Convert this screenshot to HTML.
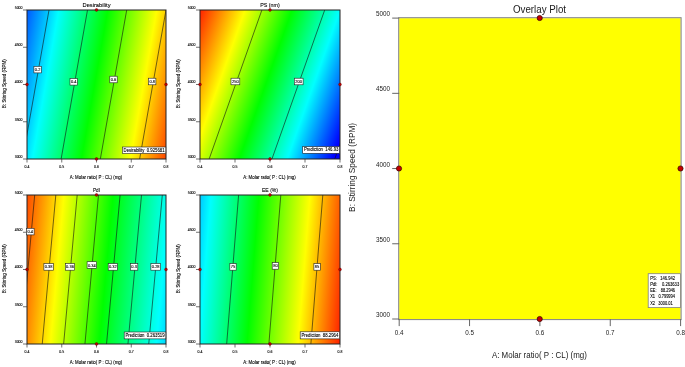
<!DOCTYPE html><html><head><meta charset="utf-8"><title>Overlay Plot</title><style>html,body{margin:0;padding:0;background:#fff}svg{display:block}text{font-family:"Liberation Sans", sans-serif;fill:#1a1a1a}.sm text{fill:#000;stroke:#000;stroke-width:0.1px}</style></head><body>
<svg width="685" height="367" viewBox="0 0 685 367">
<rect width="685" height="367" fill="#fff"/>
<g class="sm">
<defs><linearGradient id="g1" gradientUnits="userSpaceOnUse" x1="9.80" y1="10" x2="199.85" y2="43.64">
<stop offset="0.0000" stop-color="#0000ff"/>
<stop offset="0.2500" stop-color="#00ffff"/>
<stop offset="0.5000" stop-color="#00ff00"/>
<stop offset="0.7500" stop-color="#ffff00"/>
<stop offset="1.0000" stop-color="#ff0000"/>
</linearGradient>
<clipPath id="c1"><rect x="27" y="10" width="139" height="149"/></clipPath></defs>
<rect x="27" y="10" width="139" height="149" fill="url(#g1)"/>
<g clip-path="url(#c1)" stroke="#111" stroke-width="0.6" fill="none">
<line x1="49.00" y1="10" x2="22.63" y2="159"/>
<line x1="87.50" y1="10" x2="61.13" y2="159"/>
<line x1="126.70" y1="10" x2="100.33" y2="159"/>
<line x1="166.00" y1="10" x2="139.63" y2="159"/>
</g>
<rect x="27" y="10" width="139" height="149" fill="none" stroke="#222" stroke-width="1"/>
<line x1="23" y1="10.00" x2="27" y2="10.00" stroke="#333" stroke-width="0.7"/>
<text x="22.5" y="8.80" font-size="3.5" text-anchor="end">5000</text>
<line x1="23" y1="47.25" x2="27" y2="47.25" stroke="#333" stroke-width="0.7"/>
<text x="22.5" y="46.05" font-size="3.5" text-anchor="end">4500</text>
<line x1="23" y1="84.50" x2="27" y2="84.50" stroke="#333" stroke-width="0.7"/>
<text x="22.5" y="83.30" font-size="3.5" text-anchor="end">4000</text>
<line x1="23" y1="121.75" x2="27" y2="121.75" stroke="#333" stroke-width="0.7"/>
<text x="22.5" y="120.55" font-size="3.5" text-anchor="end">3500</text>
<line x1="23" y1="159.00" x2="27" y2="159.00" stroke="#333" stroke-width="0.7"/>
<text x="22.5" y="157.80" font-size="3.5" text-anchor="end">3000</text>
<line x1="27.00" y1="159" x2="27.00" y2="162.5" stroke="#333" stroke-width="0.7"/>
<text x="27.00" y="167.80" font-size="3.5" text-anchor="middle">0.4</text>
<line x1="61.75" y1="159" x2="61.75" y2="162.5" stroke="#333" stroke-width="0.7"/>
<text x="61.75" y="167.80" font-size="3.5" text-anchor="middle">0.5</text>
<line x1="96.50" y1="159" x2="96.50" y2="162.5" stroke="#333" stroke-width="0.7"/>
<text x="96.50" y="167.80" font-size="3.5" text-anchor="middle">0.6</text>
<line x1="131.25" y1="159" x2="131.25" y2="162.5" stroke="#333" stroke-width="0.7"/>
<text x="131.25" y="167.80" font-size="3.5" text-anchor="middle">0.7</text>
<line x1="166.00" y1="159" x2="166.00" y2="162.5" stroke="#333" stroke-width="0.7"/>
<text x="166.00" y="167.80" font-size="3.5" text-anchor="middle">0.8</text>
<text x="96.50" y="6.90" font-size="6" stroke="none" text-anchor="middle" textLength="28" lengthAdjust="spacingAndGlyphs">Desirability</text>
<text x="96.00" y="178.60" font-size="4.5" text-anchor="middle" textLength="52.5" lengthAdjust="spacingAndGlyphs">A: Molar ratio( P : CL) (mg)</text>
<text transform="translate(5.80,83.70) rotate(-90)" font-size="4.5" text-anchor="middle" textLength="49" lengthAdjust="spacingAndGlyphs">B: Stirring Speed (RPM)</text>
<rect x="33.90" y="66.30" width="7.4" height="6.6" fill="#fff" stroke="#222" stroke-width="0.6"/>
<text x="37.60" y="71.10" font-size="4" text-anchor="middle">0.2</text>
<rect x="70.00" y="78.50" width="7.4" height="6.6" fill="#fff" stroke="#222" stroke-width="0.6"/>
<text x="73.70" y="83.30" font-size="4" text-anchor="middle">0.4</text>
<rect x="109.80" y="76.20" width="7.4" height="6.6" fill="#fff" stroke="#222" stroke-width="0.6"/>
<text x="113.50" y="81.00" font-size="4" text-anchor="middle">0.6</text>
<rect x="148.50" y="78.20" width="7.4" height="6.6" fill="#fff" stroke="#222" stroke-width="0.6"/>
<text x="152.20" y="83.00" font-size="4" text-anchor="middle">0.8</text>
<circle cx="96.50" cy="10.00" r="1.4" fill="#c00000" stroke="#500" stroke-width="0.4"/>
<circle cx="96.50" cy="159.00" r="1.4" fill="#c00000" stroke="#500" stroke-width="0.4"/>
<circle cx="27.00" cy="84.50" r="1.4" fill="#c00000" stroke="#500" stroke-width="0.4"/>
<circle cx="166.00" cy="84.50" r="1.4" fill="#c00000" stroke="#500" stroke-width="0.4"/>
<rect x="122.4" y="147" width="43.40" height="6.50" fill="#fff" stroke="#222" stroke-width="0.6"/>
<text x="123.60" y="151.60" font-size="4.6" textLength="41.00" lengthAdjust="spacingAndGlyphs" xml:space="preserve">Desirability  0.925681</text>
</g>
<g class="sm">
<defs><linearGradient id="g2" gradientUnits="userSpaceOnUse" x1="193.00" y1="10" x2="376.95" y2="75.12">
<stop offset="0.0000" stop-color="#ff0000"/>
<stop offset="0.2512" stop-color="#ffff00"/>
<stop offset="0.4783" stop-color="#00ff00"/>
<stop offset="0.7101" stop-color="#00ffff"/>
<stop offset="0.9324" stop-color="#0000ff"/>
<stop offset="1.0000" stop-color="#0000ff"/>
</linearGradient>
<clipPath id="c2"><rect x="200" y="10" width="140" height="149"/></clipPath></defs>
<rect x="200" y="10" width="140" height="149" fill="url(#g2)"/>
<g clip-path="url(#c2)" stroke="#111" stroke-width="0.6" fill="none">
<line x1="261.90" y1="10" x2="209.15" y2="159"/>
<line x1="324.70" y1="10" x2="271.95" y2="159"/>
<line x1="387.50" y1="10" x2="334.75" y2="159"/>
</g>
<rect x="200" y="10" width="140" height="149" fill="none" stroke="#222" stroke-width="1"/>
<line x1="196" y1="10.00" x2="200" y2="10.00" stroke="#333" stroke-width="0.7"/>
<text x="195.5" y="8.80" font-size="3.5" text-anchor="end">5000</text>
<line x1="196" y1="47.25" x2="200" y2="47.25" stroke="#333" stroke-width="0.7"/>
<text x="195.5" y="46.05" font-size="3.5" text-anchor="end">4500</text>
<line x1="196" y1="84.50" x2="200" y2="84.50" stroke="#333" stroke-width="0.7"/>
<text x="195.5" y="83.30" font-size="3.5" text-anchor="end">4000</text>
<line x1="196" y1="121.75" x2="200" y2="121.75" stroke="#333" stroke-width="0.7"/>
<text x="195.5" y="120.55" font-size="3.5" text-anchor="end">3500</text>
<line x1="196" y1="159.00" x2="200" y2="159.00" stroke="#333" stroke-width="0.7"/>
<text x="195.5" y="157.80" font-size="3.5" text-anchor="end">3000</text>
<line x1="200.00" y1="159" x2="200.00" y2="162.5" stroke="#333" stroke-width="0.7"/>
<text x="200.00" y="167.80" font-size="3.5" text-anchor="middle">0.4</text>
<line x1="235.00" y1="159" x2="235.00" y2="162.5" stroke="#333" stroke-width="0.7"/>
<text x="235.00" y="167.80" font-size="3.5" text-anchor="middle">0.5</text>
<line x1="270.00" y1="159" x2="270.00" y2="162.5" stroke="#333" stroke-width="0.7"/>
<text x="270.00" y="167.80" font-size="3.5" text-anchor="middle">0.6</text>
<line x1="305.00" y1="159" x2="305.00" y2="162.5" stroke="#333" stroke-width="0.7"/>
<text x="305.00" y="167.80" font-size="3.5" text-anchor="middle">0.7</text>
<line x1="340.00" y1="159" x2="340.00" y2="162.5" stroke="#333" stroke-width="0.7"/>
<text x="340.00" y="167.80" font-size="3.5" text-anchor="middle">0.8</text>
<text x="270.00" y="6.90" font-size="6" stroke="none" text-anchor="middle" textLength="19.6" lengthAdjust="spacingAndGlyphs">PS (nm)</text>
<text x="269.50" y="178.60" font-size="4.5" text-anchor="middle" textLength="52.5" lengthAdjust="spacingAndGlyphs">A: Molar ratio( P : CL) (mg)</text>
<text transform="translate(180.00,83.70) rotate(-90)" font-size="4.5" text-anchor="middle" textLength="49" lengthAdjust="spacingAndGlyphs">B: Stirring Speed (RPM)</text>
<rect x="231.00" y="78.20" width="8.8" height="6.6" fill="#fff" stroke="#222" stroke-width="0.6"/>
<text x="235.40" y="83.00" font-size="4" text-anchor="middle">250</text>
<rect x="294.30" y="78.20" width="8.8" height="6.6" fill="#fff" stroke="#222" stroke-width="0.6"/>
<text x="298.70" y="83.00" font-size="4" text-anchor="middle">200</text>
<circle cx="270.00" cy="10.00" r="1.4" fill="#c00000" stroke="#500" stroke-width="0.4"/>
<circle cx="270.00" cy="159.00" r="1.4" fill="#c00000" stroke="#500" stroke-width="0.4"/>
<circle cx="200.00" cy="84.50" r="1.4" fill="#c00000" stroke="#500" stroke-width="0.4"/>
<circle cx="340.00" cy="84.50" r="1.4" fill="#c00000" stroke="#500" stroke-width="0.4"/>
<rect x="302.7" y="146.6" width="36.90" height="6.70" fill="#fff" stroke="#222" stroke-width="0.6"/>
<text x="303.90" y="151.40" font-size="4.6" textLength="34.50" lengthAdjust="spacingAndGlyphs" xml:space="preserve">Prediction  146.93</text>
</g>
<g class="sm">
<defs><linearGradient id="g3" gradientUnits="userSpaceOnUse" x1="12.00" y1="195" x2="226.23" y2="214.49">
<stop offset="0.0000" stop-color="#ff0000"/>
<stop offset="0.2407" stop-color="#ffff00"/>
<stop offset="0.4676" stop-color="#00ff00"/>
<stop offset="0.7315" stop-color="#00ffff"/>
<stop offset="1.0000" stop-color="#0000ff"/>
</linearGradient>
<clipPath id="c3"><rect x="27" y="195" width="139" height="149"/></clipPath></defs>
<rect x="27" y="195" width="139" height="149" fill="url(#g3)"/>
<g clip-path="url(#c3)" stroke="#111" stroke-width="0.6" fill="none">
<line x1="34.70" y1="195" x2="21.14" y2="344"/>
<line x1="55.80" y1="195" x2="42.24" y2="344"/>
<line x1="77.20" y1="195" x2="63.64" y2="344"/>
<line x1="98.50" y1="195" x2="84.94" y2="344"/>
<line x1="120.10" y1="195" x2="106.54" y2="344"/>
<line x1="141.50" y1="195" x2="127.94" y2="344"/>
<line x1="162.30" y1="195" x2="148.74" y2="344"/>
</g>
<rect x="27" y="195" width="139" height="149" fill="none" stroke="#222" stroke-width="1"/>
<line x1="23" y1="195.00" x2="27" y2="195.00" stroke="#333" stroke-width="0.7"/>
<text x="22.5" y="193.80" font-size="3.5" text-anchor="end">5000</text>
<line x1="23" y1="232.25" x2="27" y2="232.25" stroke="#333" stroke-width="0.7"/>
<text x="22.5" y="231.05" font-size="3.5" text-anchor="end">4500</text>
<line x1="23" y1="269.50" x2="27" y2="269.50" stroke="#333" stroke-width="0.7"/>
<text x="22.5" y="268.30" font-size="3.5" text-anchor="end">4000</text>
<line x1="23" y1="306.75" x2="27" y2="306.75" stroke="#333" stroke-width="0.7"/>
<text x="22.5" y="305.55" font-size="3.5" text-anchor="end">3500</text>
<line x1="23" y1="344.00" x2="27" y2="344.00" stroke="#333" stroke-width="0.7"/>
<text x="22.5" y="342.80" font-size="3.5" text-anchor="end">3000</text>
<line x1="27.00" y1="344" x2="27.00" y2="347.5" stroke="#333" stroke-width="0.7"/>
<text x="27.00" y="352.80" font-size="3.5" text-anchor="middle">0.4</text>
<line x1="61.75" y1="344" x2="61.75" y2="347.5" stroke="#333" stroke-width="0.7"/>
<text x="61.75" y="352.80" font-size="3.5" text-anchor="middle">0.5</text>
<line x1="96.50" y1="344" x2="96.50" y2="347.5" stroke="#333" stroke-width="0.7"/>
<text x="96.50" y="352.80" font-size="3.5" text-anchor="middle">0.6</text>
<line x1="131.25" y1="344" x2="131.25" y2="347.5" stroke="#333" stroke-width="0.7"/>
<text x="131.25" y="352.80" font-size="3.5" text-anchor="middle">0.7</text>
<line x1="166.00" y1="344" x2="166.00" y2="347.5" stroke="#333" stroke-width="0.7"/>
<text x="166.00" y="352.80" font-size="3.5" text-anchor="middle">0.8</text>
<text x="96.50" y="191.90" font-size="6" stroke="none" text-anchor="middle" textLength="7" lengthAdjust="spacingAndGlyphs">PdI</text>
<text x="96.00" y="363.60" font-size="4.5" text-anchor="middle" textLength="52.5" lengthAdjust="spacingAndGlyphs">A: Molar ratio( P : CL) (mg)</text>
<text transform="translate(5.80,268.70) rotate(-90)" font-size="4.5" text-anchor="middle" textLength="49" lengthAdjust="spacingAndGlyphs">B: Stirring Speed (RPM)</text>
<rect x="26.50" y="228.30" width="7.6" height="6.6" fill="#fff" stroke="#222" stroke-width="0.6"/>
<text x="30.30" y="233.10" font-size="4" text-anchor="middle">0.4</text>
<rect x="43.90" y="263.60" width="9.4" height="6.6" fill="#fff" stroke="#222" stroke-width="0.6"/>
<text x="48.60" y="268.40" font-size="4" text-anchor="middle">0.38</text>
<rect x="65.40" y="263.60" width="9.2" height="6.6" fill="#fff" stroke="#222" stroke-width="0.6"/>
<text x="70.00" y="268.40" font-size="4" text-anchor="middle">0.36</text>
<rect x="87.10" y="261.70" width="9.4" height="6.6" fill="#fff" stroke="#222" stroke-width="0.6"/>
<text x="91.80" y="266.50" font-size="4" text-anchor="middle">0.34</text>
<rect x="108.20" y="263.60" width="9.2" height="6.6" fill="#fff" stroke="#222" stroke-width="0.6"/>
<text x="112.80" y="268.40" font-size="4" text-anchor="middle">0.32</text>
<rect x="130.40" y="263.60" width="7.4" height="6.6" fill="#fff" stroke="#222" stroke-width="0.6"/>
<text x="134.10" y="268.40" font-size="4" text-anchor="middle">0.3</text>
<rect x="150.90" y="263.60" width="9.6" height="6.6" fill="#fff" stroke="#222" stroke-width="0.6"/>
<text x="155.70" y="268.40" font-size="4" text-anchor="middle">0.28</text>
<circle cx="96.50" cy="195.00" r="1.4" fill="#c00000" stroke="#500" stroke-width="0.4"/>
<circle cx="96.50" cy="344.00" r="1.4" fill="#c00000" stroke="#500" stroke-width="0.4"/>
<circle cx="27.00" cy="269.50" r="1.4" fill="#c00000" stroke="#500" stroke-width="0.4"/>
<circle cx="166.00" cy="269.50" r="1.4" fill="#c00000" stroke="#500" stroke-width="0.4"/>
<rect x="124.2" y="332" width="41.60" height="6.90" fill="#fff" stroke="#222" stroke-width="0.6"/>
<text x="125.40" y="337.00" font-size="4.6" textLength="39.20" lengthAdjust="spacingAndGlyphs" xml:space="preserve">Prediction  0.263519</text>
</g>
<g class="sm">
<defs><linearGradient id="g4" gradientUnits="userSpaceOnUse" x1="160.00" y1="195" x2="356.74" y2="210.74">
<stop offset="0.0000" stop-color="#0000ff"/>
<stop offset="0.2576" stop-color="#00ffff"/>
<stop offset="0.5000" stop-color="#00ff00"/>
<stop offset="0.7576" stop-color="#ffff00"/>
<stop offset="1.0000" stop-color="#ff0000"/>
</linearGradient>
<clipPath id="c4"><rect x="200" y="195" width="140" height="149"/></clipPath></defs>
<rect x="200" y="195" width="140" height="149" fill="url(#g4)"/>
<g clip-path="url(#c4)" stroke="#111" stroke-width="0.6" fill="none">
<line x1="238.60" y1="195" x2="226.68" y2="344"/>
<line x1="280.80" y1="195" x2="268.88" y2="344"/>
<line x1="322.80" y1="195" x2="310.88" y2="344"/>
</g>
<rect x="200" y="195" width="140" height="149" fill="none" stroke="#222" stroke-width="1"/>
<line x1="196" y1="195.00" x2="200" y2="195.00" stroke="#333" stroke-width="0.7"/>
<text x="195.5" y="193.80" font-size="3.5" text-anchor="end">5000</text>
<line x1="196" y1="232.25" x2="200" y2="232.25" stroke="#333" stroke-width="0.7"/>
<text x="195.5" y="231.05" font-size="3.5" text-anchor="end">4500</text>
<line x1="196" y1="269.50" x2="200" y2="269.50" stroke="#333" stroke-width="0.7"/>
<text x="195.5" y="268.30" font-size="3.5" text-anchor="end">4000</text>
<line x1="196" y1="306.75" x2="200" y2="306.75" stroke="#333" stroke-width="0.7"/>
<text x="195.5" y="305.55" font-size="3.5" text-anchor="end">3500</text>
<line x1="196" y1="344.00" x2="200" y2="344.00" stroke="#333" stroke-width="0.7"/>
<text x="195.5" y="342.80" font-size="3.5" text-anchor="end">3000</text>
<line x1="200.00" y1="344" x2="200.00" y2="347.5" stroke="#333" stroke-width="0.7"/>
<text x="200.00" y="352.80" font-size="3.5" text-anchor="middle">0.4</text>
<line x1="235.00" y1="344" x2="235.00" y2="347.5" stroke="#333" stroke-width="0.7"/>
<text x="235.00" y="352.80" font-size="3.5" text-anchor="middle">0.5</text>
<line x1="270.00" y1="344" x2="270.00" y2="347.5" stroke="#333" stroke-width="0.7"/>
<text x="270.00" y="352.80" font-size="3.5" text-anchor="middle">0.6</text>
<line x1="305.00" y1="344" x2="305.00" y2="347.5" stroke="#333" stroke-width="0.7"/>
<text x="305.00" y="352.80" font-size="3.5" text-anchor="middle">0.7</text>
<line x1="340.00" y1="344" x2="340.00" y2="347.5" stroke="#333" stroke-width="0.7"/>
<text x="340.00" y="352.80" font-size="3.5" text-anchor="middle">0.8</text>
<text x="270.00" y="191.90" font-size="6" stroke="none" text-anchor="middle" textLength="16" lengthAdjust="spacingAndGlyphs">EE (%)</text>
<text x="269.50" y="363.60" font-size="4.5" text-anchor="middle" textLength="52.5" lengthAdjust="spacingAndGlyphs">A: Molar ratio( P : CL) (mg)</text>
<text transform="translate(180.00,268.70) rotate(-90)" font-size="4.5" text-anchor="middle" textLength="49" lengthAdjust="spacingAndGlyphs">B: Stirring Speed (RPM)</text>
<rect x="229.85" y="263.60" width="6.3" height="6.6" fill="#fff" stroke="#222" stroke-width="0.6"/>
<text x="233.00" y="268.40" font-size="4" text-anchor="middle">75</text>
<rect x="272.20" y="262.60" width="6.4" height="6.6" fill="#fff" stroke="#222" stroke-width="0.6"/>
<text x="275.40" y="267.40" font-size="4" text-anchor="middle">80</text>
<rect x="313.90" y="263.60" width="6.4" height="6.6" fill="#fff" stroke="#222" stroke-width="0.6"/>
<text x="317.10" y="268.40" font-size="4" text-anchor="middle">85</text>
<circle cx="270.00" cy="195.00" r="1.4" fill="#c00000" stroke="#500" stroke-width="0.4"/>
<circle cx="270.00" cy="344.00" r="1.4" fill="#c00000" stroke="#500" stroke-width="0.4"/>
<circle cx="200.00" cy="269.50" r="1.4" fill="#c00000" stroke="#500" stroke-width="0.4"/>
<circle cx="340.00" cy="269.50" r="1.4" fill="#c00000" stroke="#500" stroke-width="0.4"/>
<rect x="300.2" y="331.8" width="39.40" height="7.10" fill="#fff" stroke="#222" stroke-width="0.6"/>
<text x="301.40" y="337.00" font-size="4.6" textLength="37.00" lengthAdjust="spacingAndGlyphs" xml:space="preserve">Prediction  88.2964</text>
</g>
<rect x="399.2" y="18.2" width="281.40000000000003" height="300.90000000000003" fill="#ffff00"/>
<rect x="398.7" y="17.7" width="282.40000000000003" height="301.90000000000003" fill="none" stroke="#808080" stroke-width="1"/>
<line x1="392.2" y1="18.10" x2="399.2" y2="18.10" stroke="#666" stroke-width="1"/>
<text x="389.9" y="16.20" font-size="6.3" text-anchor="end">5000</text>
<line x1="392.2" y1="93.33" x2="399.2" y2="93.33" stroke="#666" stroke-width="1"/>
<text x="389.9" y="91.43" font-size="6.3" text-anchor="end">4500</text>
<line x1="392.2" y1="168.55" x2="399.2" y2="168.55" stroke="#666" stroke-width="1"/>
<text x="389.9" y="166.65" font-size="6.3" text-anchor="end">4000</text>
<line x1="392.2" y1="243.78" x2="399.2" y2="243.78" stroke="#666" stroke-width="1"/>
<text x="389.9" y="241.88" font-size="6.3" text-anchor="end">3500</text>
<line x1="392.2" y1="319.00" x2="399.2" y2="319.00" stroke="#666" stroke-width="1"/>
<text x="389.9" y="317.10" font-size="6.3" text-anchor="end">3000</text>
<line x1="399.20" y1="319.1" x2="399.20" y2="326.1" stroke="#666" stroke-width="1"/>
<text x="399.20" y="335.10" font-size="6.3" text-anchor="middle">0.4</text>
<line x1="469.55" y1="319.1" x2="469.55" y2="326.1" stroke="#666" stroke-width="1"/>
<text x="469.55" y="335.10" font-size="6.3" text-anchor="middle">0.5</text>
<line x1="539.90" y1="319.1" x2="539.90" y2="326.1" stroke="#666" stroke-width="1"/>
<text x="539.90" y="335.10" font-size="6.3" text-anchor="middle">0.6</text>
<line x1="610.25" y1="319.1" x2="610.25" y2="326.1" stroke="#666" stroke-width="1"/>
<text x="610.25" y="335.10" font-size="6.3" text-anchor="middle">0.7</text>
<line x1="680.60" y1="319.1" x2="680.60" y2="326.1" stroke="#666" stroke-width="1"/>
<text x="680.60" y="335.10" font-size="6.3" text-anchor="middle">0.8</text>
<text x="539.5" y="12.7" font-size="10" text-anchor="middle" textLength="53" lengthAdjust="spacingAndGlyphs">Overlay Plot</text>
<text x="539.4" y="358" font-size="8.3" text-anchor="middle" textLength="95" lengthAdjust="spacingAndGlyphs">A: Molar ratio( P : CL) (mg)</text>
<text transform="translate(355,167.4) rotate(-90)" font-size="8.3" text-anchor="middle" textLength="89" lengthAdjust="spacingAndGlyphs">B: Stirring Speed (RPM)</text>
<circle cx="539.7" cy="18" r="2.6" fill="#c40000" stroke="#300" stroke-width="0.7"/>
<circle cx="539.7" cy="319" r="2.6" fill="#c40000" stroke="#300" stroke-width="0.7"/>
<circle cx="399" cy="168.5" r="2.6" fill="#c40000" stroke="#300" stroke-width="0.7"/>
<circle cx="680.5" cy="168.5" r="2.6" fill="#c40000" stroke="#300" stroke-width="0.7"/>
<g class="sm">
<rect x="648.2" y="273.7" width="32.2" height="33.9" fill="#fff" stroke="#808080" stroke-width="0.8"/>
<text x="650.2" y="279.7" font-size="4.8" textLength="24.8" lengthAdjust="spacingAndGlyphs" xml:space="preserve">PS:   146.942</text>
<text x="650.2" y="285.8" font-size="4.8" textLength="29" lengthAdjust="spacingAndGlyphs" xml:space="preserve">PdI:    0.263633</text>
<text x="650.2" y="292.1" font-size="4.8" textLength="24.8" lengthAdjust="spacingAndGlyphs" xml:space="preserve">EE:    88.2946</text>
<text x="650.2" y="298.2" font-size="4.8" textLength="24.8" lengthAdjust="spacingAndGlyphs" xml:space="preserve">X1   0.799994</text>
<text x="650.2" y="305" font-size="4.8" textLength="22.5" lengthAdjust="spacingAndGlyphs" xml:space="preserve">X2   3000.01</text>
</g>
</svg></body></html>
